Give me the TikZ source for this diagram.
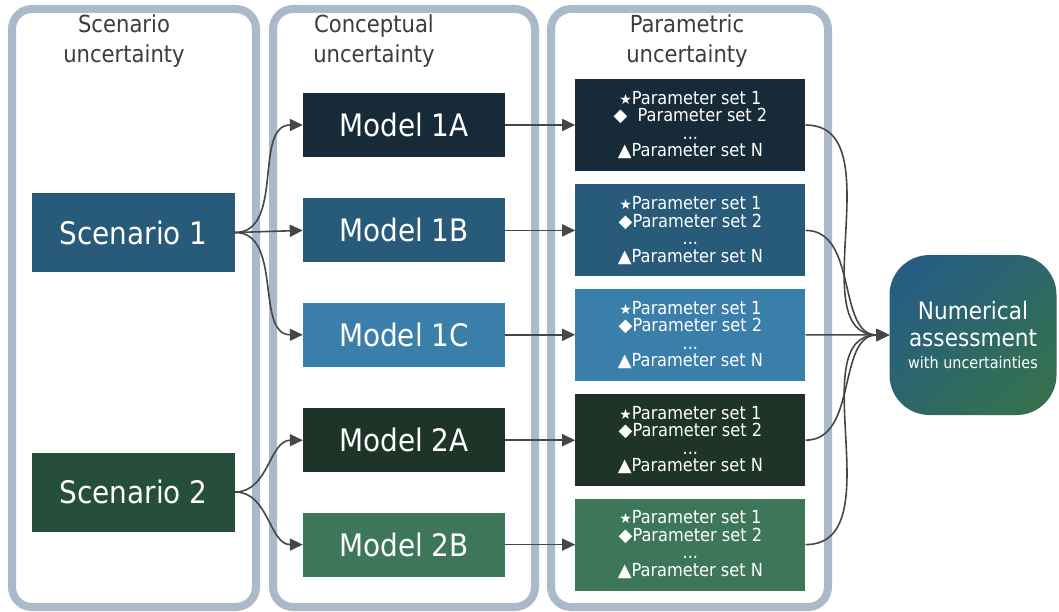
\documentclass[tikz,border=0pt]{standalone}
\usepackage{fontspec}
\setmainfont{DejaVu Sans Condensed}
\newfontfamily\symfont{DejaVu Sans}
\usepackage{tikz}
\usetikzlibrary{arrows.meta,positioning}
\definecolor{PanelGray}{RGB}{170,186,202}
\definecolor{TitleGray}{RGB}{60,60,60}
\definecolor{ArrowGray}{RGB}{70,70,70}
\definecolor{ScenBlue}{RGB}{40,90,122}
\definecolor{ScenGreen}{RGB}{38,78,60}
\definecolor{ModNavy}{RGB}{22,42,56}
\definecolor{ModBlue}{RGB}{40,90,122}
\definecolor{ModSky}{RGB}{58,126,170}
\definecolor{ModForest}{RGB}{30,52,40}
\definecolor{ModGreen}{RGB}{62,118,90}
\definecolor{NumBlue}{RGB}{38,94,130}
\definecolor{NumGreen}{RGB}{52,112,80}

\begin{document}
\begin{tikzpicture}[x=1pt,y=-1pt,
        panel/.style={draw=PanelGray,line width=8pt,rounded corners=20pt},
        ttl/.style={font=\fontsize{23.5}{30}\selectfont,color=TitleGray,
                    align=center,inner sep=0pt,anchor=north},
        box/.style={text=white,font=\fontsize{31}{36}\selectfont,
                    minimum width=202pt,minimum height=64pt,inner sep=0pt},
        sbox/.style={box,minimum width=203pt,minimum height=79pt},
        pbox/.style={text=white,font=\fontsize{18}{17.5}\selectfont,
                     minimum width=230pt,minimum height=92pt,inner sep=0pt,align=center},
        numbox/.style={rounded corners=40pt,minimum width=167pt,minimum height=160pt,
                       top color=NumBlue,bottom color=NumGreen,shading angle=45,
                       text=white,font=\fontsize{24}{27}\selectfont,align=center,inner sep=0pt},
        arr/.style={-{Triangle[length=13pt,width=12pt]},ArrowGray,line width=1.6pt}
      ]
        \useasboundingbox (0,0) rectangle (1059,612);
        % columns
        \draw[panel] (12,9) rectangle (256,607);
        \draw[panel] (273,9) rectangle (535,607);
        \draw[panel] (551,9) rectangle (828,607);
        \node[ttl] (tS) at (124,14) {Scenario\\uncertainty};
        \node[ttl] (tC) at (374,14) {Conceptual\\uncertainty};
        \node[ttl] (tP) at (687,14) {Parametric\\uncertainty};
        % scenarios
        \node[sbox,fill=ScenBlue] (S1) at (133.5,232.5) {Scenario 1};
        \node[sbox,fill=ScenGreen] (S2) at (133.5,492) {Scenario 2};
        % models
        \node[box,fill=ModNavy] (M1A) at (404,125) {Model 1A};
        \node[box,fill=ModBlue,below=41pt of M1A] (M1B) {Model 1B};
        \node[box,fill=ModSky,below=40pt of M1B] (M1C) {Model 1C};
        \node[box,fill=ModForest,below=41pt of M1C] (M2A) {Model 2A};
        \node[box,fill=ModGreen,below=40pt of M2A] (M2B) {Model 2B};
        % parameter sets
        \node[pbox,fill=ModNavy,right=70pt of M1A] (P1A) {{\symfont\fontsize{14}{17.5}\selectfont ★}Parameter set 1\\
          {\symfont ◆}\ \ Parameter set 2\\...\\{\symfont ▲}Parameter set N};
        \node[pbox,fill=ModBlue,right=70pt of M1B] (P1B) {{\symfont\fontsize{14}{17.5}\selectfont ★}Parameter set 1\\
          {\symfont ◆}Parameter set 2\\...\\{\symfont ▲}Parameter set N};
        \node[pbox,fill=ModSky,right=70pt of M1C] (P1C) {{\symfont\fontsize{14}{17.5}\selectfont ★}Parameter set 1\\
          {\symfont ◆}Parameter set 2\\...\\{\symfont ▲}Parameter set N};
        \node[pbox,fill=ModForest,right=70pt of M2A] (P2A) {{\symfont\fontsize{14}{17.5}\selectfont ★}Parameter set 1\\
          {\symfont ◆}Parameter set 2\\...\\{\symfont ▲}Parameter set N};
        \node[pbox,fill=ModGreen,right=70pt of M2B] (P2B) {{\symfont\fontsize{14}{17.5}\selectfont ★}Parameter set 1\\
          {\symfont ◆}Parameter set 2\\...\\{\symfont ▲}Parameter set N};
        \node[numbox] (N) at (973,335) {Numerical\\assessment\\[-5pt]
          {\fontsize{16}{18}\selectfont with uncertainties}};
        % connectors
        \draw[arr] (S1.east) to[out=0,in=180] (M1A.west);
        \draw[arr] (S1.east) -- (M1B.west);
        \draw[arr] (S1.east) to[out=0,in=180] (M1C.west);
        \draw[arr] (S2.east) to[out=0,in=180] (M2A.west);
        \draw[arr] (S2.east) to[out=0,in=180] (M2B.west);
        \draw[arr] (M1A)--(P1A);
        \draw[arr] (M1B)--(P1B);
        \draw[arr] (M1C)--(P1C);
        \draw[arr] (M2A)--(P2A);
        \draw[arr] (M2B)--(P2B);
        \draw[arr] (P1A.east) to[out=0,in=180] (N.west);
        \draw[arr] (P1B.east) to[out=0,in=180] (N.west);
        \draw[arr] (P1C.east) -- (N.west);
        \draw[arr] (P2A.east) to[out=0,in=180] (N.west);
        \draw[arr] (P2B.east) to[out=0,in=180] (N.west);
      \end{tikzpicture}
\end{document}
